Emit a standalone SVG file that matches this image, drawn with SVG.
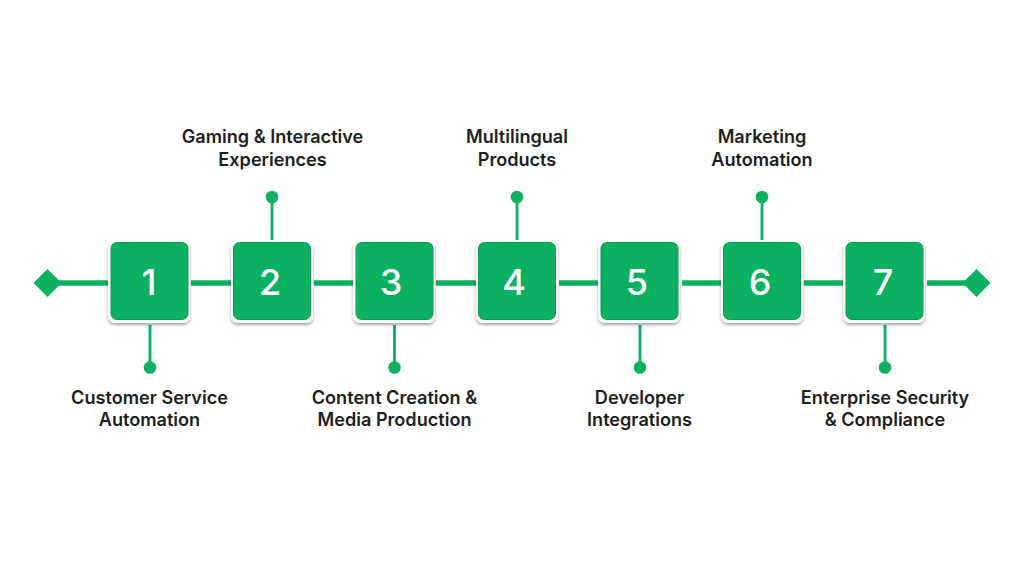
<svg xmlns="http://www.w3.org/2000/svg" width="1024" height="576" viewBox="0 0 1024 576">
<defs>
<filter id="sh" x="-20%" y="-20%" width="140%" height="140%"><feDropShadow dx="0" dy="2" stdDeviation="1.4" flood-color="#000" flood-opacity="0.35"/></filter>
<filter id="soft" x="-5%" y="-5%" width="110%" height="110%"><feGaussianBlur stdDeviation="0.35"/></filter>
</defs>
<style>
text{font-family:Inter,"Liberation Sans",sans-serif;text-anchor:middle}
.l{font-size:18.100px;font-weight:600;fill:#1c1e21}
.n{font-size:36px;font-weight:500;fill:#fff}
.c{stroke:#0bb060;fill:none}
.outer{fill:#fff;filter:url(#sh)}
.box{fill:#0bb060;stroke:#089a52;stroke-width:1}
.d{fill:#0bb060}
</style>
<rect width="1024" height="576" fill="#fff"/>
<g id="connectors" filter="url(#soft)">
<path class="c" stroke-width="5.500" d="M50 283H108M191 283H231M314 283H354M436 283H476M559 283H599M682 283H722M804 283H845M927 283H975"/>
<path class="c" stroke-width="2.800" d="M150 325V367M272 197V240M394.500 325V367M517 197V240M640 325V367M762 197V240M885 325V367"/>
<circle class="d" cx="150" cy="367.500" r="6.300"/>
<circle class="d" cx="272" cy="197" r="6.300"/>
<circle class="d" cx="394.500" cy="367.500" r="6.300"/>
<circle class="d" cx="517" cy="197" r="6.300"/>
<circle class="d" cx="640" cy="367.500" r="6.300"/>
<circle class="d" cx="762" cy="197" r="6.300"/>
<circle class="d" cx="885" cy="367.500" r="6.300"/>
</g>
<g id="start"><path class="d" d="M47.500 269L61.500 283L47.500 297L33.500 283Z"/></g>
<g id="end"><path class="d" d="M976.500 269L990.500 283L976.500 297L962.500 283Z"/></g>
<g id="node1"><rect class="outer" x="108" y="241" width="82" height="82" rx="7"/><rect class="box" x="111" y="242.500" width="77" height="77" rx="6"/><text class="n" x="149" y="295">1</text></g>
<g id="node2"><rect class="outer" x="231" y="241" width="82" height="82" rx="7"/><rect class="box" x="233.500" y="242.500" width="77" height="77" rx="6"/><text class="n" x="270" y="295">2</text></g>
<g id="node3"><rect class="outer" x="353" y="241" width="82" height="82" rx="7"/><rect class="box" x="356" y="242.500" width="77" height="77" rx="6"/><text class="n" x="391" y="295">3</text></g>
<g id="node4"><rect class="outer" x="476" y="241" width="82" height="82" rx="7"/><rect class="box" x="478.500" y="242.500" width="77" height="77" rx="6"/><text class="n" x="514" y="295">4</text></g>
<g id="node5"><rect class="outer" x="598" y="241" width="82" height="82" rx="7"/><rect class="box" x="601" y="242.500" width="77" height="77" rx="6"/><text class="n" x="637" y="295">5</text></g>
<g id="node6"><rect class="outer" x="721" y="241" width="82" height="82" rx="7"/><rect class="box" x="723.500" y="242.500" width="77" height="77" rx="6"/><text class="n" x="760" y="295">6</text></g>
<g id="node7"><rect class="outer" x="843" y="241" width="82" height="82" rx="7"/><rect class="box" x="846" y="242.500" width="77" height="77" rx="6"/><text class="n" x="883" y="295">7</text></g>
<g id="label1"><text class="l" x="149.500" y="403.500">Customer Service</text><text class="l" x="149.500" y="426">Automation</text></g>
<g id="label2"><text class="l" x="272.500" y="143">Gaming &amp; Interactive</text><text class="l" x="272.500" y="165.500">Experiences</text></g>
<g id="label3"><text class="l" x="394.500" y="403.500">Content Creation &amp;</text><text class="l" x="394.500" y="426">Media Production</text></g>
<g id="label4"><text class="l" x="517" y="143">Multilingual</text><text class="l" x="517" y="165.500">Products</text></g>
<g id="label5"><text class="l" x="639.500" y="403.500">Developer</text><text class="l" x="639.500" y="426">Integrations</text></g>
<g id="label6"><text class="l" x="762" y="143">Marketing</text><text class="l" x="762" y="165.500">Automation</text></g>
<g id="label7"><text class="l" x="885" y="403.500">Enterprise Security</text><text class="l" x="885" y="426">&amp; Compliance</text></g>
</svg>
